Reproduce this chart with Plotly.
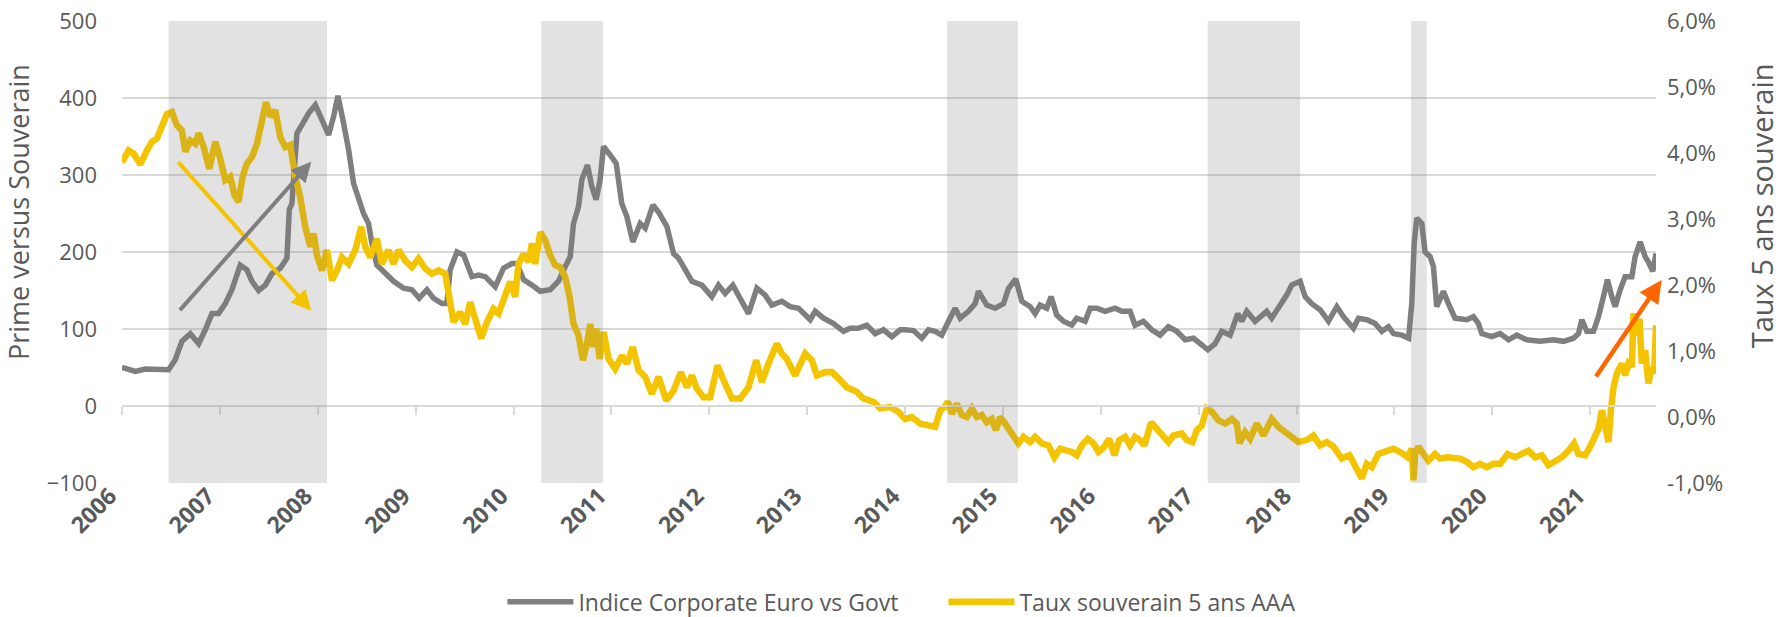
import plotly.graph_objects as go

# ---------------- data ----------------
years = list(range(2006, 2022))
year_labels = [str(y) for y in years]

# Indice Corporate Euro vs Govt (left axis, bp) ; x in decimal years of the chart's time axis
gray_x = [2006.000, 2006.136, 2006.238, 2006.442, 2006.476, 2006.544, 2006.612, 2006.698, 2006.783, 2006.851,
          2006.919, 2006.987, 2007.055, 2007.123, 2007.208, 2007.276, 2007.328, 2007.396, 2007.464, 2007.532,
          2007.617, 2007.685, 2007.709, 2007.736, 2007.787, 2007.838, 2007.906, 2007.975, 2008.025, 2008.111,
          2008.162, 2008.206, 2008.264, 2008.315, 2008.366, 2008.417, 2008.468, 2008.519, 2008.553, 2008.604,
          2008.690, 2008.775, 2008.877, 2008.962, 2009.037, 2009.115, 2009.183, 2009.268, 2009.319, 2009.353,
          2009.422, 2009.490, 2009.575, 2009.643, 2009.711, 2009.813, 2009.898, 2009.983,
          2010.035, 2010.103, 2010.188, 2010.273, 2010.375, 2010.460, 2010.528, 2010.579, 2010.613, 2010.664,
          2010.698, 2010.756, 2010.800, 2010.844, 2010.885, 2010.919, 2010.987, 2011.049, 2011.106, 2011.158,
          2011.219, 2011.294, 2011.345, 2011.424, 2011.481, 2011.567, 2011.635, 2011.686, 2011.754, 2011.822,
          2011.924, 2012.026, 2012.094, 2012.162, 2012.241, 2012.316, 2012.401, 2012.486, 2012.571, 2012.639,
          2012.741, 2012.826, 2012.912, 2013.031, 2013.082, 2013.167, 2013.269, 2013.371, 2013.439, 2013.524,
          2013.609, 2013.695, 2013.780, 2013.865, 2013.951,
          2014.001, 2014.086, 2014.171, 2014.239, 2014.307, 2014.375, 2014.444, 2014.512, 2014.563, 2014.648,
          2014.716, 2014.750, 2014.835, 2014.920, 2015.006, 2015.057, 2015.131, 2015.193, 2015.278, 2015.329,
          2015.380, 2015.448, 2015.492, 2015.550, 2015.618, 2015.703, 2015.754, 2015.840, 2015.891, 2015.959,
          2016.044, 2016.146, 2016.214, 2016.299, 2016.350, 2016.435, 2016.521, 2016.606, 2016.691, 2016.776,
          2016.862, 2016.947, 2017.015, 2017.093, 2017.168, 2017.236, 2017.321, 2017.399, 2017.440, 2017.491,
          2017.576, 2017.695, 2017.746, 2017.831, 2017.899, 2017.950, 2018.036,
          2018.087, 2018.155, 2018.240, 2018.326, 2018.411, 2018.479, 2018.581, 2018.632, 2018.717, 2018.803,
          2018.871, 2018.939, 2018.990, 2019.075, 2019.144, 2019.177, 2019.201, 2019.228, 2019.279, 2019.313,
          2019.364, 2019.398, 2019.432, 2019.500, 2019.551, 2019.619, 2019.739, 2019.807, 2019.858, 2019.892,
          2019.994, 2020.079, 2020.165, 2020.250, 2020.352, 2020.488, 2020.624, 2020.727, 2020.829, 2020.880,
          2020.914, 2020.965, 2021.033, 2021.084, 2021.135, 2021.176, 2021.221, 2021.255, 2021.306, 2021.357,
          2021.425, 2021.459, 2021.510, 2021.561, 2021.595, 2021.639, 2021.672]
gray_y = [50, 45, 48, 46, 47, 60, 84, 94, 81, 99,
          120, 120, 133, 151, 183, 177, 162, 150, 157, 172,
          179, 192, 255, 263, 354, 365, 380, 391, 376, 352,
          376, 403, 367, 333, 289, 268, 250, 237, 211, 183,
          172, 162, 153, 151, 140, 151, 140, 133, 133, 177,
          200, 196, 168, 170, 168, 155, 179, 185,
          185, 164, 157, 149, 151, 162, 181, 194, 237, 259,
          294, 313, 285, 268, 294, 337, 326, 315, 263, 246,
          213, 237, 231, 261, 252, 233, 198, 192, 177, 162,
          157, 142, 157, 146, 157, 138, 120, 153, 144, 131,
          136, 129, 127, 112, 123, 114, 107, 97, 101, 101,
          105, 94, 99, 90, 99,
          99, 98, 88, 99, 97, 92, 110, 127, 114, 123,
          133, 149, 131, 127, 133, 153, 165, 136, 129, 120,
          131, 127, 142, 118, 110, 105, 114, 110, 127, 127,
          123, 127, 123, 123, 105, 110, 99, 92, 103, 97,
          86, 88, 81, 73, 81, 97, 92, 120, 110, 123,
          110, 123, 114, 129, 144, 157, 162,
          142, 133, 125, 110, 129, 116, 101, 114, 112, 107,
          97, 103, 94, 92, 88, 133, 211, 244, 237, 200,
          194, 181, 129, 149, 133, 114, 112, 116, 107, 94,
          90, 94, 86, 92, 86, 84, 86, 84, 88, 94,
          112, 97, 97, 116, 142, 164, 142, 129, 151, 168,
          168, 194, 213, 194, 187, 175, 198]

# Taux souverain 5 ans AAA (right axis, %)
yellow_x = [2006.000, 2006.068, 2006.119, 2006.187, 2006.255, 2006.306, 2006.357, 2006.408, 2006.459, 2006.510,
            2006.561, 2006.612, 2006.647, 2006.698, 2006.749, 2006.783, 2006.834, 2006.892, 2006.953, 2007.004,
            2007.055, 2007.106, 2007.150, 2007.191, 2007.232, 2007.276, 2007.328, 2007.379, 2007.430, 2007.471,
            2007.515, 2007.566, 2007.617, 2007.668, 2007.719, 2007.770, 2007.821, 2007.872, 2007.924, 2007.958,
            2007.992, 2008.043, 2008.094, 2008.145, 2008.196, 2008.247, 2008.315, 2008.383, 2008.444, 2008.485,
            2008.536, 2008.604, 2008.655, 2008.723, 2008.774, 2008.826, 2008.894, 2008.962, 2009.030, 2009.098,
            2009.166, 2009.234, 2009.302, 2009.353, 2009.387, 2009.455, 2009.506, 2009.557, 2009.609, 2009.670,
            2009.728, 2009.796, 2009.847, 2009.915,
            2009.966, 2010.017, 2010.051, 2010.102, 2010.154, 2010.188, 2010.222, 2010.273, 2010.324, 2010.375,
            2010.426, 2010.477, 2010.528, 2010.573, 2010.613, 2010.664, 2010.709, 2010.750, 2010.784, 2010.818,
            2010.845, 2010.879, 2010.920, 2010.971, 2011.039, 2011.107, 2011.158, 2011.219, 2011.277, 2011.345,
            2011.413, 2011.481, 2011.560, 2011.635, 2011.709, 2011.771, 2011.822, 2011.873, 2011.941, 2012.009,
            2012.084, 2012.145, 2012.231, 2012.316, 2012.401, 2012.479, 2012.537, 2012.605, 2012.690, 2012.741,
            2012.792, 2012.877, 2012.979, 2013.048, 2013.099, 2013.184, 2013.252, 2013.337, 2013.405, 2013.507,
            2013.575, 2013.678, 2013.746, 2013.848, 2013.933, 2014.001,
            2014.069, 2014.154, 2014.240, 2014.308, 2014.359, 2014.403, 2014.437, 2014.478, 2014.529, 2014.580,
            2014.631, 2014.682, 2014.733, 2014.784, 2014.835, 2014.886, 2014.927, 2014.971, 2015.022, 2015.091,
            2015.159, 2015.210, 2015.278, 2015.329, 2015.397, 2015.465, 2015.526, 2015.584, 2015.652, 2015.703,
            2015.754, 2015.806, 2015.867, 2015.925, 2015.976, 2016.037, 2016.085, 2016.139, 2016.187, 2016.248,
            2016.299, 2016.350, 2016.401, 2016.446, 2016.514, 2016.572, 2016.630, 2016.691, 2016.742, 2016.827,
            2016.878, 2016.936, 2016.981, 2017.032, 2017.083, 2017.134, 2017.202, 2017.270, 2017.338, 2017.389,
            2017.416, 2017.474, 2017.525, 2017.593, 2017.661, 2017.746, 2017.814, 2017.883, 2017.951, 2018.019,
            2018.104, 2018.172, 2018.240, 2018.308, 2018.376, 2018.462, 2018.540, 2018.598, 2018.666, 2018.717,
            2018.768, 2018.836, 2018.904, 2018.990, 2019.058, 2019.133, 2019.177, 2019.194, 2019.211, 2019.245,
            2019.296, 2019.347, 2019.415, 2019.466, 2019.534, 2019.602, 2019.670, 2019.739, 2019.807, 2019.875,
            2019.943, 2020.011, 2020.080, 2020.155, 2020.233, 2020.301, 2020.369, 2020.437, 2020.505, 2020.573,
            2020.641, 2020.710, 2020.778, 2020.835, 2020.880, 2020.948, 2020.999, 2021.050, 2021.085, 2021.119,
            2021.153, 2021.187, 2021.211, 2021.238, 2021.272, 2021.323, 2021.357, 2021.391, 2021.425, 2021.442,
            2021.476, 2021.503, 2021.527, 2021.561, 2021.595, 2021.629, 2021.653, 2021.664, 2021.672]
yellow_y = [3.86, 4.04, 3.99, 3.83, 4.04, 4.17, 4.22, 4.39, 4.59, 4.62,
            4.42, 4.34, 4.02, 4.19, 4.14, 4.30, 4.09, 3.76, 4.17, 3.91,
            3.59, 3.64, 3.36, 3.26, 3.64, 3.84, 3.94, 4.14, 4.55, 4.77,
            4.55, 4.65, 4.24, 4.09, 4.12, 3.64, 3.33, 2.88, 2.58, 2.78,
            2.45, 2.22, 2.53, 2.07, 2.22, 2.42, 2.32, 2.53, 2.88, 2.58,
            2.42, 2.70, 2.32, 2.53, 2.32, 2.53, 2.37, 2.27, 2.40, 2.25,
            2.17, 2.22, 2.17, 1.72, 1.44, 1.59, 1.41, 1.74, 1.46, 1.19,
            1.44, 1.64, 1.57, 1.82,
            2.05, 1.82, 2.32, 2.47, 2.35, 2.63, 2.32, 2.80, 2.68, 2.45,
            2.30, 2.27, 2.12, 1.82, 1.41, 1.24, 0.86, 1.11, 1.41, 1.06,
            1.34, 0.88, 1.29, 0.88, 0.73, 0.93, 0.81, 1.06, 0.71, 0.61,
            0.35, 0.61, 0.25, 0.40, 0.68, 0.45, 0.63, 0.43, 0.30, 0.30,
            0.78, 0.56, 0.28, 0.28, 0.45, 0.86, 0.53, 0.81, 1.11, 0.96,
            0.88, 0.63, 0.96, 0.86, 0.63, 0.68, 0.68, 0.56, 0.45, 0.38,
            0.28, 0.23, 0.13, 0.15, 0.08, -0.03,
            0.00, -0.10, -0.13, -0.15, 0.10, 0.15, 0.23, 0.05, 0.20, 0.03,
            0.00, 0.13, 0.00, 0.03, -0.08, -0.03, -0.20, 0.00, -0.10, -0.25,
            -0.40, -0.30, -0.38, -0.30, -0.40, -0.43, -0.61, -0.48, -0.51, -0.53,
            -0.58, -0.43, -0.33, -0.40, -0.53, -0.45, -0.33, -0.58, -0.35, -0.30,
            -0.43, -0.30, -0.35, -0.43, -0.08, -0.18, -0.28, -0.38, -0.28, -0.25,
            -0.35, -0.38, -0.20, -0.13, 0.13, 0.08, -0.05, -0.10, -0.03, -0.10,
            -0.40, -0.23, -0.33, -0.10, -0.28, -0.03, -0.15, -0.23, -0.33, -0.38,
            -0.35, -0.28, -0.43, -0.38, -0.45, -0.63, -0.58, -0.76, -0.93, -0.71,
            -0.76, -0.56, -0.53, -0.48, -0.53, -0.61, -0.48, -0.96, -0.56, -0.45,
            -0.56, -0.66, -0.56, -0.63, -0.61, -0.63, -0.63, -0.68, -0.76, -0.71,
            -0.76, -0.71, -0.71, -0.56, -0.61, -0.56, -0.51, -0.61, -0.58, -0.73,
            -0.68, -0.61, -0.51, -0.40, -0.56, -0.58, -0.45, -0.30, -0.18, 0.10,
            -0.10, -0.38, 0.10, 0.45, 0.66, 0.81, 0.63, 0.81, 0.76, 1.57,
            1.24, 1.49, 0.81, 1.01, 0.51, 0.76, 0.66, 1.11, 1.39]

# shaded periods (start, end) in the chart's time axis
shade_start = [2006.476, 2010.283, 2014.430, 2017.092, 2019.170]
shade_end = [2008.094, 2010.913, 2015.152, 2018.036, 2019.330]

left_ticks = [-100, 0, 100, 200, 300, 400, 500]
right_ticks = [-1, 0, 1, 2, 3, 4, 5, 6]
right_labels = ["-1,0%", "0,0%", "1,0%", "2,0%", "3,0%", "4,0%", "5,0%", "6,0%"]

# trend arrows: (tail x, tail y, head x, head y) in left-axis data units
arrow_yellow = (2006.561, 318.6, 2007.934, 123.8)
arrow_gray = (2006.578, 122.5, 2007.934, 317.3)
arrow_orange = (2021.049, 36.4, 2021.730, 163.6)

X_RANGE = [2006, 2021.672]
TXT = "#595959"
GRID = "#d9d9d9"
FONT = "Open Sans"

fig = go.Figure()
fig.add_trace(go.Scatter(x=gray_x, y=gray_y, mode="lines", name="Indice Corporate Euro vs Govt",
                         line=dict(color="#7f7f7f", width=5.5), xaxis="x", yaxis="y"))
fig.add_trace(go.Scatter(x=yellow_x, y=yellow_y, mode="lines", name="Taux souverain 5 ans AAA",
                         line=dict(color="#f5c400", width=6.5), xaxis="x", yaxis="y2"))
# carrier trace for the tick-mark axis drawn on the zero line
fig.add_trace(go.Scatter(x=years, y=[None] * len(years), mode="lines", showlegend=False,
                         hoverinfo="skip", xaxis="x2", yaxis="y"))

shapes = []
for s, e in zip(shade_start, shade_end):
    shapes.append(dict(type="rect", xref="x", yref="paper", x0=s, x1=e, y0=0, y1=1,
                       fillcolor="rgba(120,120,120,0.21)", line=dict(width=0), layer="above"))

annotations = []
for (tx, ty, hx, hy), col, w in [(arrow_yellow, "#f5c400", 4), (arrow_gray, "#7f7f7f", 4),
                                 (arrow_orange, "#ff6600", 4.5)]:
    annotations.append(dict(x=hx, y=hy, ax=tx, ay=ty, xref="x", yref="y", axref="x", ayref="y",
                            text="", showarrow=True, arrowhead=2, arrowsize=1, arrowwidth=w,
                            arrowcolor=col, standoff=0, startstandoff=0))
annotations.append(dict(text="Prime versus Souverain", xref="paper", yref="paper", x=-0.0673, y=0.586,
                        textangle=-90, showarrow=False, xanchor="center", yanchor="middle",
                        font=dict(family=FONT, size=27, color=TXT)))
annotations.append(dict(text="Taux 5 ans souverain", xref="paper", yref="paper", x=1.0684, y=0.601,
                        textangle=-90, showarrow=False, xanchor="center", yanchor="middle",
                        font=dict(family=FONT, size=29, color=TXT)))

fig.update_layout(
    width=1785, height=617,
    margin=dict(l=122, r=129, t=21, b=134, autoexpand=False),
    paper_bgcolor="white", plot_bgcolor="white",
    font=dict(family=FONT, color=TXT),
    showlegend=True,
    legend=dict(orientation="h", x=0.248, xanchor="left", y=-0.257, yanchor="middle",
                font=dict(family=FONT, size=23, color=TXT), itemwidth=66,
                entrywidth=360, entrywidthmode="pixels",
                bgcolor="rgba(0,0,0,0)"),
    xaxis=dict(range=X_RANGE, tickmode="array", tickvals=years, ticktext=year_labels,
               tickangle=-45, showgrid=False, zeroline=False, showline=False, ticks="",
               ticklabelshift=-12, ticklabelstandoff=-6,
               tickfont=dict(family=FONT, size=23, color=TXT, weight="bold")),
    xaxis2=dict(range=X_RANGE, overlaying="x", anchor="free", position=1 / 6, side="bottom",
                tickmode="array", tickvals=years, showticklabels=False, showgrid=False,
                zeroline=False, showline=True, linecolor=GRID, linewidth=2,
                ticks="outside", ticklen=8, tickwidth=1.5, tickcolor=GRID),
    yaxis=dict(range=[-100, 500], tickmode="array", tickvals=left_ticks, showgrid=True,
               gridcolor=GRID, gridwidth=1.5, zeroline=False, showline=False, ticks="",
               ticklabelstandoff=24, tickfont=dict(family=FONT, size=22, color=TXT)),
    yaxis2=dict(range=[-1, 6], overlaying="y", side="right", anchor="x", tickmode="array",
                tickvals=right_ticks, ticktext=right_labels, showgrid=False, zeroline=False,
                showline=False, ticks="", ticklabelstandoff=10,
                tickfont=dict(family=FONT, size=22, color=TXT)),
    shapes=shapes,
    annotations=annotations,
)

fig.write_html("out.html", config={"displayModeBar": False},
               post_script="document.body.style.margin='0';")
